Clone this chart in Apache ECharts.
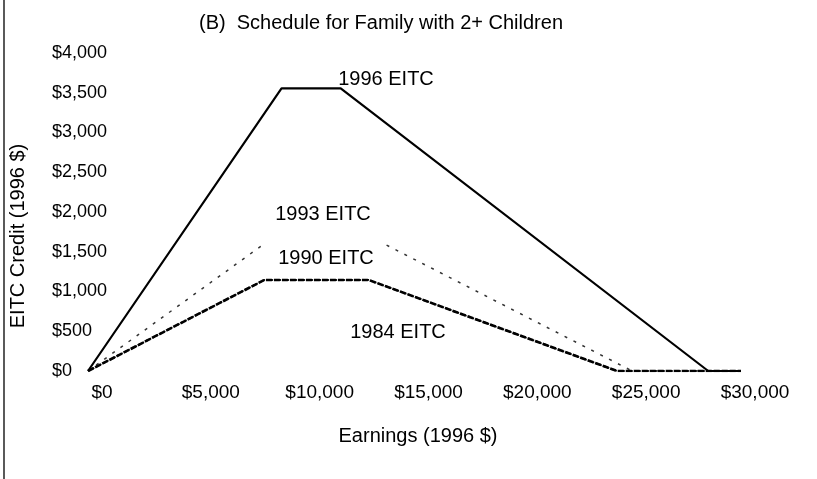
<!DOCTYPE html>
<html>
<head>
<meta charset="utf-8">
<script src="https://cdn.jsdelivr.net/npm/echarts@6/dist/echarts.min.js"></script>
<style>html,body{margin:0;padding:0;background:#fff;}#c{width:817px;height:479px;}</style>
</head>
<body>
<div id="c"></div>
<script>
// Earnings (1996 $) breakpoints and credit values (1996 $)
const earn1996 = [0, 8890, 11610, 28495, 30000];
const eitc1996 = [0, 3556, 3556, 0, 0];
const earn1993 = [0, 8100, 13600, 25000, 30000];
const eitc1993 = [0, 1600, 1600, 0, 0];
const earn1990 = [0, 8100, 12900, 24300, 30000];
const eitc1990 = [0, 1145, 1145, 0, 0];
const earn1984 = [0, 8100, 12900, 24300, 30000];
const eitc1984 = [0, 1145, 1145, 0, 0];
const xTicks = [0, 5000, 10000, 15000, 20000, 25000, 30000];
const yTicks = [0, 500, 1000, 1500, 2000, 2500, 3000, 3500, 4000];
const seriesNames = ['1996 EITC', '1993 EITC', '1990 EITC', '1984 EITC'];

const pair = (xs, ys) => xs.map((x, i) => [x, ys[i]]);
const money = v => '$' + v.toLocaleString('en-US');
const FONT = 'Liberation Sans, Arial, sans-serif';
const F20 = '20px ' + FONT;

const chart = echarts.init(document.getElementById('c'), null, {renderer: 'canvas'});
chart.setOption({
  backgroundColor: '#fff',
  animation: false,
  grid: {left: 88, right: 76, top: 53, bottom: 108},
  xAxis: {
    type: 'value', min: xTicks[0], max: xTicks[xTicks.length - 1], interval: 5000,
    axisLine: {show: false}, axisTick: {show: false}, splitLine: {show: false},
    axisLabel: {formatter: money, color: '#000', fontFamily: FONT, fontSize: 19, margin: 12, padding: [0, 0, 0, 28]}
  },
  yAxis: {
    type: 'value', min: yTicks[0], max: yTicks[yTicks.length - 1], interval: 500,
    axisLine: {show: false}, axisTick: {show: false}, splitLine: {show: false},
    axisLabel: {formatter: money, color: '#000', fontFamily: FONT, fontSize: 18, margin: 36, align: 'left'}
  },
  series: [
    {name: seriesNames[0], type: 'line', data: pair(earn1996, eitc1996), symbol: 'none', z: 5,
     lineStyle: {color: '#000', width: 2.2, type: 'solid'}},
    {name: seriesNames[1], type: 'line', data: pair(earn1993, eitc1993), symbol: 'none', z: 3,
     lineStyle: {color: '#333', width: 1.5, type: [3, 7]}},
    {name: seriesNames[2], type: 'line', data: pair(earn1990, eitc1990), symbol: 'none', z: 4,
     lineStyle: {color: '#000', width: 2.6, type: [6, 2]}},
    {name: seriesNames[3], type: 'line', data: pair(earn1984, eitc1984), symbol: 'none', z: 4,
     lineStyle: {color: '#000', width: 2, type: [2, 2], dashOffset: 3}}
  ],
  graphic: [
    {type: 'line', shape: {x1: 4, y1: 0, x2: 4, y2: 479}, style: {stroke: '#000', lineWidth: 1.3}},
    {type: 'text', x: 381, y: 23, style: {text: '(B)  Schedule for Family with 2+ Children', font: F20, fill: '#000', align: 'center', verticalAlign: 'middle'}},
    {type: 'rect', shape: {x: 262, y: 236, width: 122, height: 14}, style: {fill: '#fff'}, z: 9},
    {type: 'text', x: 386, y: 79, style: {text: seriesNames[0], font: F20, fill: '#000', align: 'center', verticalAlign: 'middle'}, z: 10},
    {type: 'text', x: 323, y: 214, style: {text: seriesNames[1], font: F20, fill: '#000', align: 'center', verticalAlign: 'middle'}, z: 10},
    {type: 'text', x: 326, y: 258, style: {text: seriesNames[2], font: F20, fill: '#000', align: 'center', verticalAlign: 'middle'}, z: 10},
    {type: 'text', x: 398, y: 332, style: {text: seriesNames[3], font: F20, fill: '#000', align: 'center', verticalAlign: 'middle'}, z: 10},
    {type: 'text', x: 418, y: 436, style: {text: 'Earnings (1996 $)', font: F20, fill: '#000', align: 'center', verticalAlign: 'middle'}},
    {type: 'text', x: 18, y: 236, rotation: Math.PI / 2, style: {text: 'EITC Credit (1996 $)', font: F20, fill: '#000', align: 'center', verticalAlign: 'middle'}}
  ]
});
</script>
</body>
</html>
